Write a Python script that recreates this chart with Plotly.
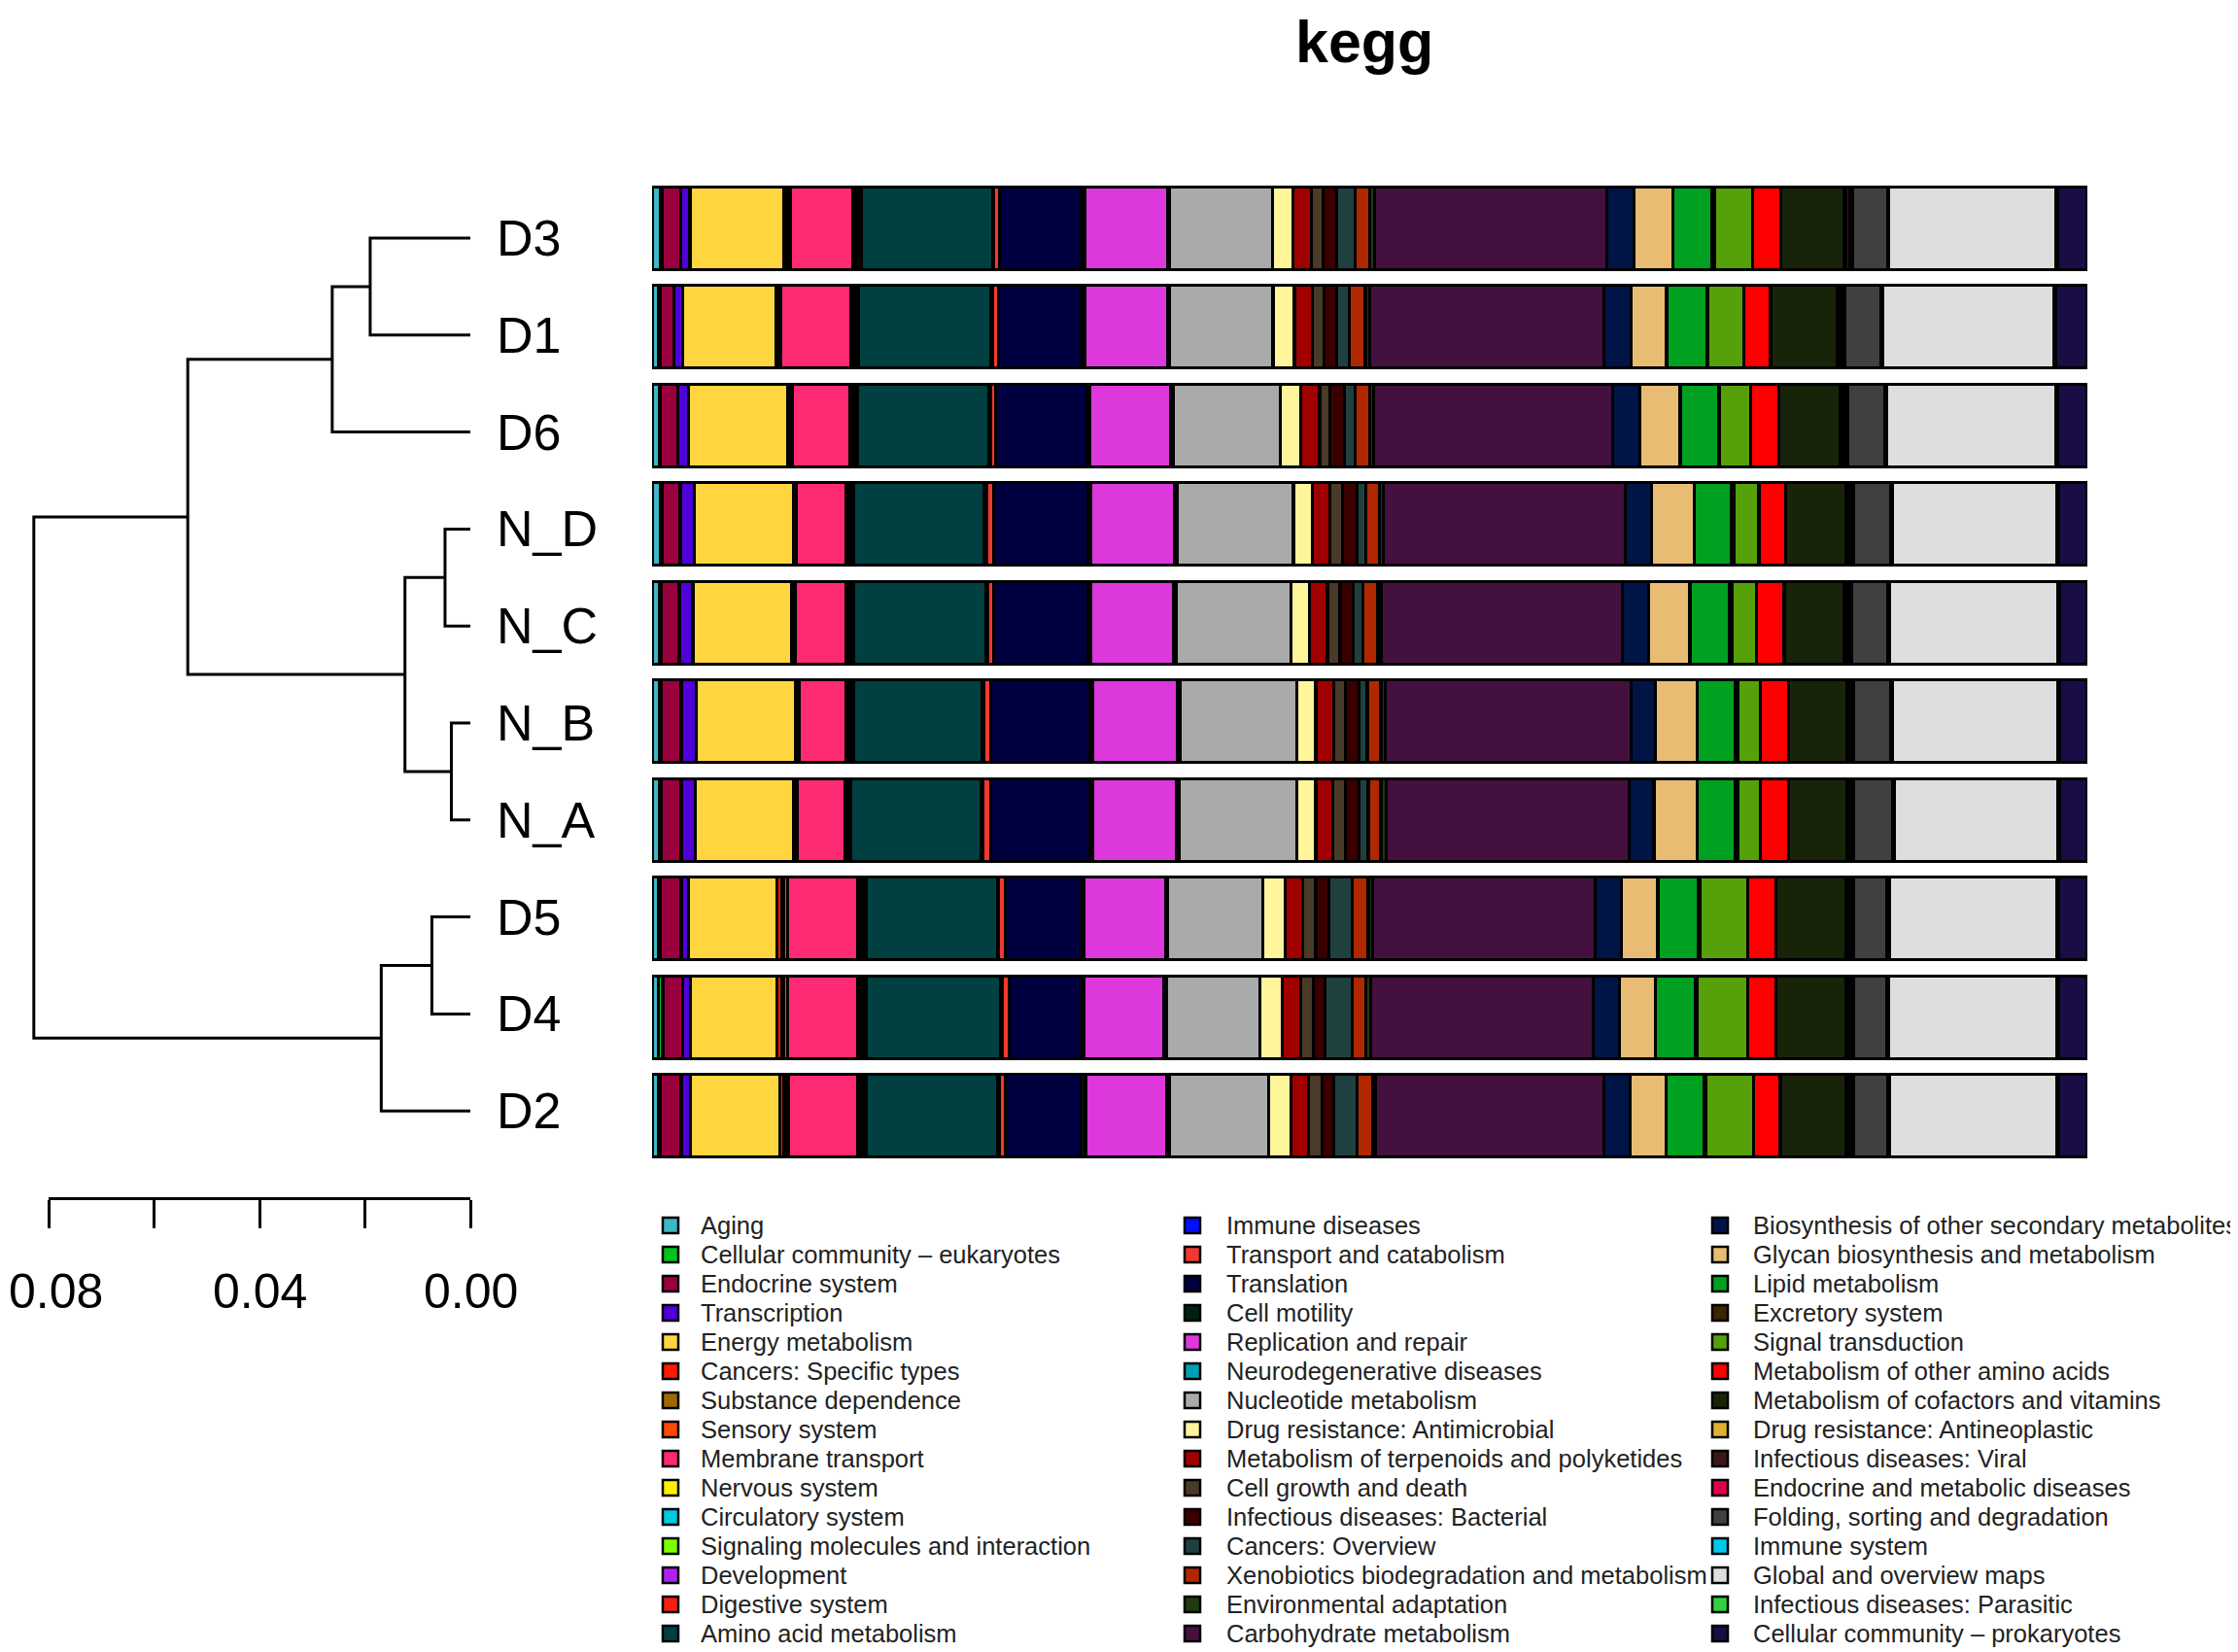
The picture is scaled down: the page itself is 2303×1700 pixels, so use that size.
import plotly.graph_objects as go

W, H = 2303, 1700

categories = [
    "Aging", "Cellular community – eukaryotes", "Endocrine system", "Transcription",
    "Energy metabolism", "Cancers: Specific types", "Substance dependence", "Sensory system",
    "Membrane transport", "Nervous system", "Circulatory system", "Signaling molecules and interaction",
    "Development", "Digestive system", "Amino acid metabolism",
    "Immune diseases", "Transport and catabolism", "Translation", "Cell motility",
    "Replication and repair", "Neurodegenerative diseases", "Nucleotide metabolism",
    "Drug resistance: Antimicrobial", "Metabolism of terpenoids and polyketides",
    "Cell growth and death", "Infectious diseases: Bacterial", "Cancers: Overview",
    "Xenobiotics biodegradation and metabolism", "Environmental adaptation", "Carbohydrate metabolism",
    "Biosynthesis of other secondary metabolites", "Glycan biosynthesis and metabolism",
    "Lipid metabolism", "Excretory system", "Signal transduction", "Metabolism of other amino acids",
    "Metabolism of cofactors and vitamins", "Drug resistance: Antineoplastic",
    "Infectious diseases: Viral", "Endocrine and metabolic diseases",
    "Folding, sorting and degradation", "Immune system", "Global and overview maps",
    "Infectious diseases: Parasitic", "Cellular community – prokaryotes",
]

colors = [
    "#3FB6C6", "#00C41C", "#9A003E", "#5000D8", "#FFD640", "#FF1A00", "#9E6A00", "#FF4A00",
    "#FF2A74", "#FFF000", "#00C8E0", "#7CFF00", "#B020F0", "#F52010", "#004040",
    "#0010FF", "#F03A30", "#000040", "#002010", "#DC38DC", "#00A0B0", "#AAAAAA",
    "#FFF59A", "#A00000", "#4A3A28", "#3A0000", "#204040", "#B02800", "#203A10", "#44103E",
    "#001446", "#E8BC72", "#00A020", "#3A2600", "#56A00A", "#FF0000", "#18240A", "#E0B030",
    "#3A1818", "#E0004A", "#404040", "#00C8E8", "#DEDEDE", "#30D040", "#1A0C44",
]

samples = ["D3", "D1", "D6", "N_D", "N_C", "N_B", "N_A", "D5", "D4", "D2"]

D3 = [0.60, 0.10, 1.30, 0.64, 6.50, 0.22, 0.10, 0.18, 4.30, 0.13, 0.10, 0.10, 0.10, 0.21, 9.10,
      0.10, 0.40, 5.70, 0.25, 5.70, 0.15, 7.20, 1.40, 1.30, 0.80, 0.95, 1.25, 1.05, 0.30, 16.20,
      1.85, 2.70, 2.75, 0.15, 2.65, 1.95, 4.45, 0.12, 0.25, 0.18, 2.45, 0.10, 11.60, 0.10, 2.10]
D1 = [0.45, 0.10, 1.00, 0.60, 6.50, 0.15, 0.07, 0.13, 4.85, 0.15, 0.08, 0.08, 0.08, 0.16, 9.25,
      0.10, 0.40, 5.80, 0.25, 5.75, 0.15, 7.20, 1.50, 1.25, 0.80, 0.90, 0.90, 1.10, 0.30, 16.35,
      1.90, 2.45, 2.80, 0.10, 2.50, 1.85, 4.65, 0.12, 0.25, 0.18, 2.50, 0.10, 12.00, 0.10, 2.20]
D6 = [0.50, 0.10, 1.20, 0.75, 6.85, 0.15, 0.07, 0.13, 4.00, 0.10, 0.08, 0.08, 0.08, 0.21, 9.10,
      0.10, 0.40, 6.30, 0.25, 5.60, 0.15, 7.45, 1.45, 1.30, 0.70, 1.00, 0.75, 1.00, 0.30, 16.60,
      1.90, 2.80, 2.65, 0.10, 2.15, 1.95, 4.30, 0.10, 0.23, 0.17, 2.60, 0.10, 11.75, 0.10, 2.10]
N_D = [0.60, 0.10, 1.26, 0.96, 6.92, 0.09, 0.05, 0.07, 3.45, 0.10, 0.08, 0.08, 0.08, 0.19, 9.13,
       0.13, 0.51, 6.57, 0.18, 5.85, 0.22, 8.06, 1.31, 1.24, 0.89, 1.00, 0.60, 0.96, 0.28, 16.86,
       1.79, 3.02, 2.54, 0.19, 1.76, 1.88, 4.15, 0.12, 0.24, 0.18, 2.62, 0.12, 11.42, 0.12, 2.03]
N_C = [0.51, 0.10, 1.28, 0.96, 6.85, 0.11, 0.05, 0.09, 3.55, 0.10, 0.08, 0.08, 0.08, 0.19, 9.24,
       0.10, 0.43, 6.57, 0.18, 5.78, 0.22, 7.95, 1.31, 1.25, 0.88, 0.89, 0.71, 1.00, 0.24, 16.84,
       1.80, 2.89, 2.74, 0.20, 1.68, 1.95, 4.19, 0.11, 0.23, 0.17, 2.54, 0.12, 11.69, 0.12, 1.95]
N_B = [0.51, 0.10, 1.42, 1.06, 6.93, 0.11, 0.05, 0.09, 3.23, 0.10, 0.08, 0.08, 0.08, 0.19, 8.95,
       0.13, 0.51, 6.92, 0.18, 5.86, 0.18, 8.17, 1.31, 1.24, 0.82, 0.96, 0.57, 0.95, 0.29, 17.14,
       1.68, 2.93, 2.66, 0.18, 1.58, 1.96, 4.03, 0.10, 0.21, 0.15, 2.62, 0.12, 11.50, 0.12, 1.95]
N_A = [0.51, 0.10, 1.42, 0.99, 6.86, 0.11, 0.05, 0.09, 3.30, 0.12, 0.06, 0.06, 0.06, 0.12, 9.06,
       0.14, 0.57, 6.92, 0.18, 5.79, 0.18, 8.24, 1.31, 1.17, 0.89, 0.96, 0.64, 0.88, 0.36, 16.91,
       1.76, 3.01, 2.66, 0.18, 1.58, 1.96, 4.03, 0.10, 0.21, 0.15, 2.74, 0.12, 11.38, 0.12, 1.95]
D5 = [0.47, 0.13, 1.43, 0.53, 6.15, 0.32, 0.14, 0.25, 4.90, 0.12, 0.09, 0.09, 0.09, 0.21, 9.13,
      0.11, 0.45, 5.26, 0.25, 5.64, 0.18, 6.61, 1.56, 1.24, 0.89, 0.89, 1.63, 1.14, 0.28, 15.52,
      1.84, 2.54, 2.82, 0.12, 3.32, 1.96, 4.89, 0.11, 0.22, 0.17, 2.35, 0.16, 11.65, 0.12, 2.03]
D4 = [0.45, 0.30, 1.39, 0.53, 6.04, 0.35, 0.13, 0.23, 4.90, 0.15, 0.08, 0.08, 0.08, 0.21, 9.34,
      0.12, 0.48, 5.01, 0.25, 5.50, 0.25, 6.50, 1.56, 1.28, 0.85, 0.82, 1.88, 0.96, 0.35, 15.52,
      1.83, 2.47, 2.81, 0.12, 3.52, 1.96, 4.89, 0.11, 0.22, 0.17, 2.31, 0.12, 11.73, 0.12, 2.03]
D2 = [0.47, 0.10, 1.46, 0.64, 6.21, 0.27, 0.12, 0.22, 4.83, 0.12, 0.09, 0.09, 0.09, 0.21, 9.16,
      0.10, 0.43, 5.26, 0.32, 5.68, 0.18, 6.92, 1.53, 1.24, 0.96, 0.78, 1.64, 1.06, 0.25, 15.86,
      1.84, 2.54, 2.62, 0.12, 3.32, 1.88, 4.58, 0.11, 0.22, 0.17, 2.43, 0.12, 11.61, 0.12, 2.03]

sample_values = [D3, D1, D6, N_D, N_C, N_B, N_A, D5, D4, D2]

# hierarchical clustering merges (children, height)
merge_left = ["D3", "m1", "N_D", "N_B", "m3", "m2", "D5", "m7", "m6"]
merge_right = ["D1", "D6", "N_C", "N_A", "m4", "m5", "D4", "D2", "m8"]
merge_height = [0.0190, 0.0262, 0.0048, 0.0036, 0.0124, 0.0536, 0.0073, 0.0169, 0.0828]

scale_ticks = [0.00, 0.02, 0.04, 0.06, 0.08]
scale_labels = ["0.00", "", "0.04", "", "0.08"]

FONT = "Liberation Sans, Arial, Helvetica, sans-serif"


def px(x):
    return x / W


def py(y):
    return 1 - y / H


# layout geometry (pixels)
BAR_X0, BAR_X1 = 663, 2140
BAR_Y0, BAR_Y1 = 176, 1191
LEAF_X = 476
SCALE_X0 = 42
LEAF_Y0, LEAF_DY = 237, 99.8
AXIS_Y = 1224
TICKLABEL_Y = 1321
DEND_TOP = 176
PX_PER_UNIT = (LEAF_X - SCALE_X0) / 0.08
TICK_FONT = 50

fig = go.Figure()

# stacked bars
for j, cat in enumerate(categories):
    fig.add_trace(go.Bar(
        y=samples,
        x=[vals[j] for vals in sample_values],
        orientation="h",
        name=cat,
        marker=dict(color=colors[j], line=dict(color="black", width=3.2)),
        xaxis="x", yaxis="y",
        showlegend=False,
        hoverinfo="name+x",
    ))

# dendrogram
pos = {s: (0.0, i) for i, s in enumerate(samples)}
dx, dy = [], []
for k, (a, b, h) in enumerate(zip(merge_left, merge_right, merge_height)):
    xa, ya = pos[a]
    xb, yb = pos[b]
    dx += [xa, h, h, xb, None]
    dy += [ya, ya, yb, yb, None]
    pos["m%d" % (k + 1)] = (h, (ya + yb) / 2)

fig.add_trace(go.Scatter(
    x=dx, y=dy, mode="lines", line=dict(color="black", width=3),
    xaxis="x2", yaxis="y2", showlegend=False, hoverinfo="skip",
))

# dummy trace for scale bar axis
fig.add_trace(go.Scatter(
    x=[scale_ticks[0], scale_ticks[-1]], y=[0.5, 0.5], mode="lines",
    line=dict(width=0), opacity=0, xaxis="x3", yaxis="y3",
    showlegend=False, hoverinfo="skip",
))

annotations = []
# sample labels
for i, s in enumerate(samples):
    annotations.append(dict(
        x=0, y=i, xref="x2", yref="y2", text=s, showarrow=False,
        xanchor="left", yanchor="middle", xshift=25,
        font=dict(family=FONT, size=52, color="black"),
    ))

# scale bar tick labels (kept inside the page at the left edge)
half_label = 0.98 * TICK_FONT
for t, lab in zip(scale_ticks, scale_labels):
    if lab:
        tick_px = SCALE_X0 + (0.08 - t) * PX_PER_UNIT
        annotations.append(dict(
            x=t, y=py(TICKLABEL_Y), xref="x3", yref="paper", text=lab, showarrow=False,
            xanchor="center", yanchor="middle", xshift=max(0, half_label - tick_px),
            font=dict(family=FONT, size=TICK_FONT, color="black"),
        ))

# title
annotations.append(dict(
    x=px(1396), y=1, xref="paper", yref="paper", text="<b>kegg</b>",
    showarrow=False, xanchor="center", yanchor="top", borderpad=0,
    font=dict(family=FONT, size=61, color="black"),
))

# manual legend (3 columns, 15 rows)
shapes = []
box_cx = [682, 1219, 1762]
text_x = [711, 1252, 1794]
for j, cat in enumerate(categories):
    col, row = divmod(j, 15)
    cy = 1253 + 30 * row
    shapes.append(dict(
        type="rect", xref="paper", yref="paper",
        x0=px(box_cx[col] - 8), x1=px(box_cx[col] + 8),
        y0=py(cy + 8), y1=py(cy - 8),
        fillcolor=colors[j], line=dict(color="black", width=2.5),
    ))
    annotations.append(dict(
        x=px(text_x[col]), y=py(cy), xref="paper", yref="paper", text=cat,
        showarrow=False, xanchor="left", yanchor="middle",
        font=dict(family=FONT, size=25.5, color="#222222"),
    ))

n = len(samples)
fig.update_layout(
    width=W, height=H,
    margin=dict(l=0, r=0, t=0, b=0),
    paper_bgcolor="white", plot_bgcolor="white",
    barmode="stack", barnorm="fraction", bargap=0.16,
    xaxis=dict(domain=[px(BAR_X0), px(BAR_X1)], range=[0, 1], visible=False),
    yaxis=dict(domain=[py(BAR_Y1), py(BAR_Y0)], type="category", categoryorder="array",
               categoryarray=samples, range=[n - 0.5, -0.5], visible=False),
    xaxis2=dict(domain=[0, px(LEAF_X)], range=[LEAF_X / PX_PER_UNIT, 0], visible=False, anchor="y2"),
    yaxis2=dict(domain=[py(AXIS_Y), py(DEND_TOP)],
                range=[(AXIS_Y - LEAF_Y0) / LEAF_DY, (DEND_TOP - LEAF_Y0) / LEAF_DY],
                visible=False, anchor="x2"),
    xaxis3=dict(domain=[px(SCALE_X0), px(LEAF_X)], range=[0.08, 0], anchor="y3",
                showline=True, linecolor="black", linewidth=3,
                ticks="outside", ticklen=29, tickwidth=3, tickcolor="black",
                tickvals=scale_ticks, showticklabels=False,
                showgrid=False, zeroline=False),
    yaxis3=dict(domain=[py(AXIS_Y), py(AXIS_Y - 6)], range=[0, 1], visible=False, anchor="x3"),
    annotations=annotations,
    shapes=shapes,
)

fig.write_html("out.html")
